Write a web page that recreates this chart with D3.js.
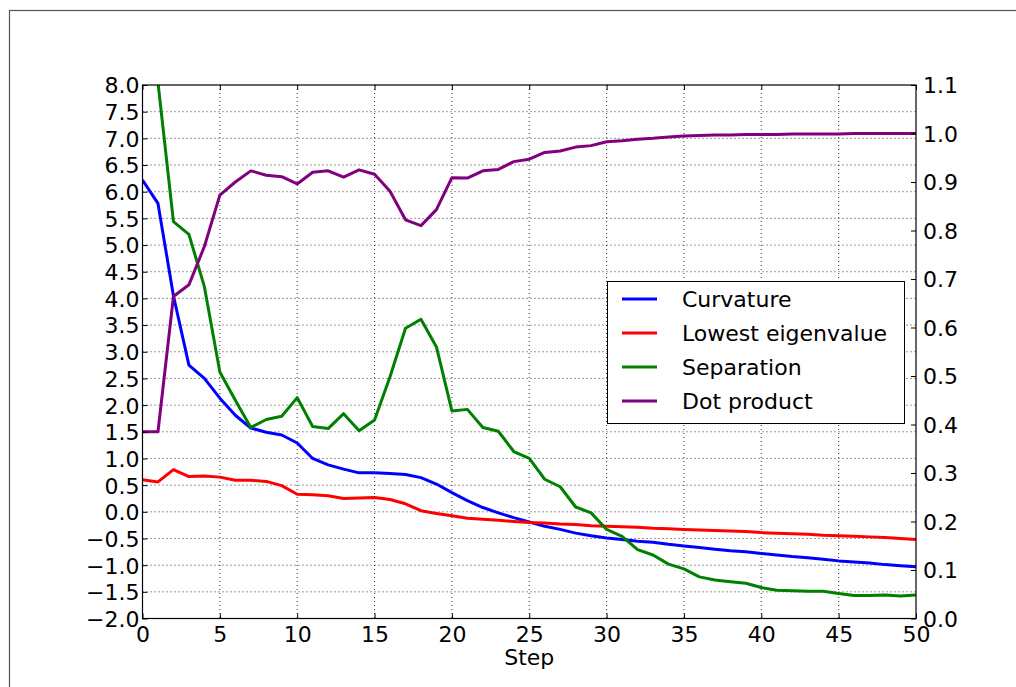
<!DOCTYPE html>
<html>
<head>
<meta charset="utf-8">
<script src="https://cdn.jsdelivr.net/npm/d3@7"></script>
<style>
  html, body { margin: 0; padding: 0; background: #fff; overflow: hidden; }
  text { font-family: "DejaVu Sans", sans-serif; fill: #000; }
</style>
</head>
<body>
<div id="app"></div>
<script>
"use strict";

// chart values
const steps = [0, 1, 2, 3, 4, 5, 6, 7, 8, 9, 10, 11, 12, 13, 14, 15, 16, 17, 18, 19, 20,
    21, 22, 23, 24, 25, 26, 27, 28, 29, 30, 31, 32, 33, 34, 35, 36, 37, 38, 39, 40,
    41, 42, 43, 44, 45, 46, 47, 48, 49, 50];

const curvature = [6.22, 5.78, 4.05, 2.75, 2.5, 2.13, 1.81, 1.57, 1.49, 1.44, 1.29,
    1.0, 0.88, 0.8, 0.73, 0.73, 0.72, 0.70, 0.64, 0.52, 0.36,
    0.21, 0.08, -0.02, -0.11, -0.19, -0.27, -0.33, -0.40, -0.45, -0.49,
    -0.52, -0.55, -0.57, -0.61, -0.64, -0.67, -0.70, -0.73, -0.75, -0.78,
    -0.81, -0.84, -0.86, -0.89, -0.92, -0.94, -0.96, -0.99, -1.01, -1.03];

const lowestEigenvalue = [0.60, 0.56, 0.79, 0.66, 0.67, 0.65, 0.59, 0.59, 0.57, 0.49, 0.33,
    0.32, 0.30, 0.25, 0.26, 0.27, 0.23, 0.15, 0.02, -0.03, -0.075,
    -0.12, -0.14, -0.16, -0.18, -0.20, -0.21, -0.23, -0.24, -0.26, -0.27,
    -0.28, -0.29, -0.31, -0.32, -0.33, -0.34, -0.35, -0.36, -0.37, -0.39,
    -0.40, -0.41, -0.42, -0.44, -0.45, -0.46, -0.47, -0.48, -0.50, -0.52];

const separation = [12.0, 8.05, 5.44, 5.2, 4.22, 2.62, 2.09, 1.58, 1.73, 1.79, 2.14,
    1.6, 1.56, 1.84, 1.52, 1.72, 2.53, 3.44, 3.61, 3.09, 1.89,
    1.92, 1.58, 1.51, 1.13, 1.0, 0.61, 0.47, 0.09, -0.02, -0.33,
    -0.46, -0.71, -0.81, -0.98, -1.07, -1.22, -1.28, -1.31, -1.34, -1.42,
    -1.47, -1.48, -1.49, -1.49, -1.53, -1.57, -1.57, -1.56, -1.58, -1.56];

const dotProduct = [0.385, 0.385, 0.664, 0.688, 0.767, 0.873, 0.900, 0.923, 0.914, 0.911, 0.896,
    0.920, 0.923, 0.910, 0.925, 0.916, 0.881, 0.822, 0.810, 0.843, 0.909,
    0.908, 0.923, 0.926, 0.942, 0.947, 0.961, 0.964, 0.972, 0.975, 0.983,
    0.985, 0.988, 0.990, 0.993, 0.995, 0.996, 0.997, 0.997, 0.998, 0.998,
    0.998, 0.999, 0.999, 0.999, 0.999, 1.0, 1.0, 1.0, 1.0, 1.0];

const xTicks = [0, 5, 10, 15, 20, 25, 30, 35, 40, 45, 50];
const leftTicks = [-2.0, -1.5, -1.0, -0.5, 0.0, 0.5, 1.0, 1.5, 2.0, 2.5, 3.0,
    3.5, 4.0, 4.5, 5.0, 5.5, 6.0, 6.5, 7.0, 7.5, 8.0];
const rightTicks = [0.0, 0.1, 0.2, 0.3, 0.4, 0.5, 0.6, 0.7, 0.8, 0.9, 1.0, 1.1];

const seriesNames = ["Curvature", "Lowest eigenvalue", "Separation", "Dot product"];
const seriesColors = ["#0000ff", "#ff0000", "#008000", "#800080"];

const W = 1016, H = 687;
const plot = { left: 142.5, right: 916, top: 85, bottom: 618.5 };
const fontSize = 22;

const fmt = (v) => d3.format(".1f")(v).replace("-", "\u2212");

const svg = d3.select("#app").append("svg")
    .attr("width", W)
    .attr("height", H);

// figure frame (cropped by the window)
svg.append("rect")
    .attr("x", 9.5).attr("y", 10.5)
    .attr("width", 1200).attr("height", 1000)
    .attr("fill", "none")
    .attr("stroke", "#555")
    .attr("stroke-width", 1.2);

const x = d3.scaleLinear().domain([0, 50]).range([plot.left, plot.right]);
const yLeft = d3.scaleLinear().domain([-2, 8]).range([plot.bottom, plot.top]);
const yRight = d3.scaleLinear().domain([0, 1.1]).range([plot.bottom, plot.top]);

svg.append("defs").append("clipPath").attr("id", "clip")
    .append("rect")
    .attr("x", plot.left).attr("y", plot.top)
    .attr("width", plot.right - plot.left)
    .attr("height", plot.bottom - plot.top);

// grid
const grid = svg.append("g")
    .attr("stroke", "#000")
    .attr("stroke-width", 0.8)
    .attr("stroke-dasharray", "1,3");
grid.selectAll("line.gx").data(xTicks.slice(1, -1)).join("line")
    .attr("x1", d => x(d)).attr("x2", d => x(d))
    .attr("y1", plot.top).attr("y2", plot.bottom);
grid.selectAll("line.gy").data(leftTicks.slice(1, -1)).join("line")
    .attr("x1", plot.left).attr("x2", plot.right)
    .attr("y1", d => yLeft(d)).attr("y2", d => yLeft(d));

// lines
const lines = svg.append("g").attr("clip-path", "url(#clip)");
const leftLine = d3.line().x((d, i) => x(steps[i])).y(d => yLeft(d));
const rightLine = d3.line().x((d, i) => x(steps[i])).y(d => yRight(d));

[curvature, lowestEigenvalue, separation].forEach((s, i) => {
    lines.append("path")
        .attr("d", leftLine(s))
        .attr("fill", "none")
        .attr("stroke", seriesColors[i])
        .attr("stroke-width", 3)
        .attr("stroke-linejoin", "round");
});
lines.append("path")
    .attr("d", rightLine(dotProduct))
    .attr("fill", "none")
    .attr("stroke", seriesColors[3])
    .attr("stroke-width", 3)
    .attr("stroke-linejoin", "round");

// axes: ticks point inward, as in classic matplotlib
const axisStyle = (g) => {
    g.select(".domain").remove();
    g.selectAll(".tick line").attr("stroke", "#000").attr("stroke-width", 1);
    g.selectAll(".tick text")
        .style("font-family", "'DejaVu Sans', sans-serif")
        .style("font-size", fontSize + "px")
        .attr("fill", "#000");
};

svg.append("g")
    .attr("transform", `translate(0,${plot.bottom})`)
    .call(d3.axisBottom(x).tickValues(xTicks).tickFormat(d3.format("d"))
        .tickSizeInner(-5).tickPadding(8))
    .call(axisStyle);

svg.append("g")
    .attr("transform", `translate(0,${plot.top})`)
    .call(d3.axisTop(x).tickValues(xTicks).tickFormat("").tickSizeInner(-5))
    .call(axisStyle);

svg.append("g")
    .attr("transform", `translate(${plot.left},0)`)
    .call(d3.axisLeft(yLeft).tickValues(leftTicks).tickFormat(fmt)
        .tickSizeInner(-5).tickPadding(3))
    .call(axisStyle)
    .selectAll(".tick text").attr("dy", "0.36em");

svg.append("g")
    .attr("transform", `translate(${plot.right},0)`)
    .call(d3.axisRight(yRight).tickValues(rightTicks).tickFormat(fmt)
        .tickSizeInner(-5).tickPadding(7))
    .call(axisStyle)
    .selectAll(".tick text").attr("dy", "0.36em");

// spines
svg.append("rect")
    .attr("x", plot.left).attr("y", plot.top)
    .attr("width", plot.right - plot.left)
    .attr("height", plot.bottom - plot.top)
    .attr("fill", "none")
    .attr("stroke", "#000")
    .attr("stroke-width", 1.2);

svg.append("text")
    .attr("x", (plot.left + plot.right) / 2)
    .attr("y", 665)
    .attr("text-anchor", "middle")
    .style("font-size", fontSize + "px")
    .text("Step");

// legend
const legend = svg.append("g").attr("transform", "translate(607,281)");
legend.append("rect")
    .attr("x", 0.5).attr("y", 0.5)
    .attr("width", 297).attr("height", 142)
    .attr("fill", "#fff")
    .attr("stroke", "#000")
    .attr("stroke-width", 1);
const item = legend.selectAll("g.item").data(seriesNames).join("g")
    .attr("transform", (d, i) => `translate(0,${18 + i * 34})`);
item.append("line")
    .attr("x1", 15).attr("x2", 50)
    .attr("stroke", (d, i) => seriesColors[i])
    .attr("stroke-width", 3);
item.append("text")
    .attr("x", 75)
    .attr("dy", "0.36em")
    .style("font-size", fontSize + "px")
    .text(d => d);
</script>
</body>
</html>
